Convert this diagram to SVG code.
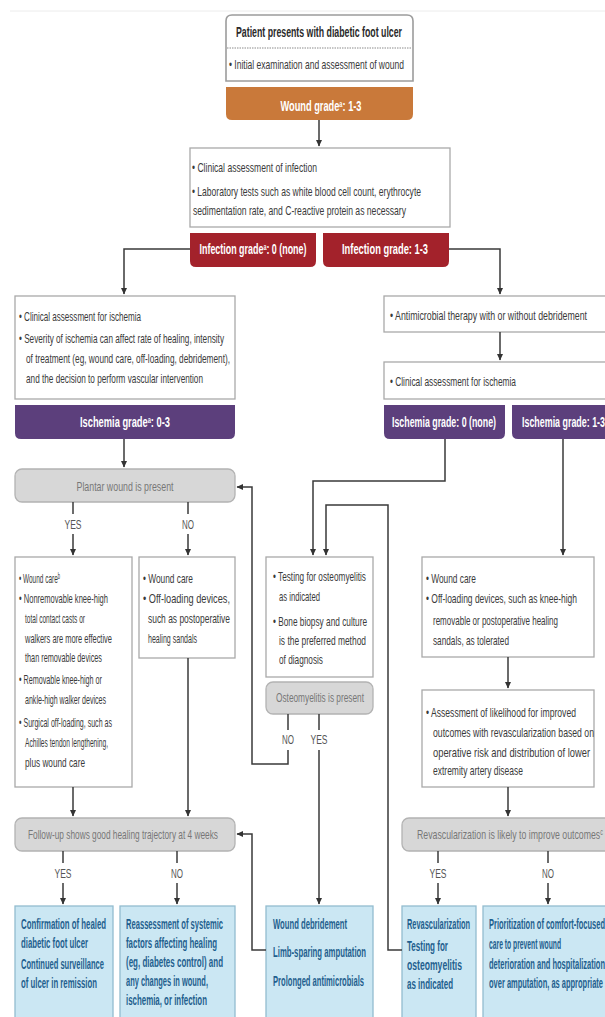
<svg xmlns="http://www.w3.org/2000/svg" width="605" height="1017" viewBox="0 0 605 1017">
<defs>
<marker id="ah" markerWidth="7" markerHeight="7" refX="6" refY="3.5" orient="auto" markerUnits="userSpaceOnUse"><path d="M0,0.5 L6.5,3.5 L0,6.5 z" fill="#333"/></marker>
</defs>
<style>
text{font-family:"Liberation Sans Narrow","Liberation Sans",Arial,sans-serif}
.t{font-size:13.5px;fill:#3a3a3a}
.h{font-size:14px;fill:#2a2a2a;font-weight:bold}
.w{font-size:14px;fill:#fff;font-weight:bold}
.g{font-size:13.5px;fill:#777}
.yn{font-size:12.5px;fill:#555}
.bl{font-size:14px;fill:#1f5f8e;font-weight:bold}
.box{fill:#fff;stroke:#a9a9a9;stroke-width:1.3}
.gray{fill:#d7d7d7;stroke:#b3b3b3;stroke-width:1.3}
.blue{fill:#cbe7f3;stroke:#93bccf;stroke-width:1.3}
.con{fill:none;stroke:#3a3a3a;stroke-width:1.5}
.sup{font-size:8.5px}
</style>
<rect width="605" height="1017" fill="#fff"/>
<line x1="10" y1="11" x2="605" y2="11" stroke="#ececec" stroke-width="1"/>

<g id="start">
<path d="M226,81 V21 Q226,15 232,15 H407 Q413,15 413,21 V81 Z" class="box" style="stroke:#9c9c9c;stroke-width:1.6"/>
<line x1="227" y1="48" x2="412" y2="48" stroke="#8a8a8a" stroke-width="1" stroke-dasharray="1.5,1"/>
<text class="h" x="319" y="37" text-anchor="middle" textLength="166" lengthAdjust="spacingAndGlyphs">Patient presents with diabetic foot ulcer</text>
<text class="t" x="229" y="69" textLength="175" lengthAdjust="spacingAndGlyphs">• Initial examination and assessment of wound</text>
</g>

<g id="wound-grade">
<path d="M226,87 H413 V114 Q413,120 407,120 H232 Q226,120 226,114 Z" fill="#c9793a"/>
<text class="w" x="321" y="111" text-anchor="middle" textLength="81" lengthAdjust="spacingAndGlyphs">Wound grade<tspan class="sup" dy="-4">a</tspan><tspan dy="4">: 1-3</tspan></text>
</g>

<g id="infection-assessment">
<rect x="190" y="148" width="260" height="79" class="box"/>
<text class="t" x="192" y="172" textLength="125" lengthAdjust="spacingAndGlyphs">• Clinical assessment of infection</text>
<text class="t" x="192" y="196" textLength="229" lengthAdjust="spacingAndGlyphs">• Laboratory tests such as white blood cell count, erythrocyte</text>
<text class="t" x="193" y="215" textLength="213" lengthAdjust="spacingAndGlyphs">sedimentation rate, and C-reactive protein as necessary</text>
</g>

<g id="infection-0">
<path d="M190,233 H316 V261 Q316,267 310,267 H196 Q190,267 190,261 Z" fill="#a3222b"/>
<text class="w" x="253" y="254" text-anchor="middle" textLength="107" lengthAdjust="spacingAndGlyphs">Infection grade<tspan class="sup" dy="-4">a</tspan><tspan dy="4">: 0 (none)</tspan></text>
</g>
<g id="infection-13">
<path d="M323,233 H449 V261 Q449,267 443,267 H329 Q323,267 323,261 Z" fill="#a3222b"/>
<text class="w" x="385" y="254" text-anchor="middle" textLength="86" lengthAdjust="spacingAndGlyphs">Infection grade: 1-3</text>
</g>

<g id="ischemia-assessment-left">
<rect x="15" y="296" width="220" height="103" class="box"/>
<text class="t" x="19" y="321" textLength="122" lengthAdjust="spacingAndGlyphs">• Clinical assessment for ischemia</text>
<text class="t" x="19" y="343" textLength="205" lengthAdjust="spacingAndGlyphs">• Severity of ischemia can affect rate of healing, intensity</text>
<text class="t" x="26" y="363" textLength="204" lengthAdjust="spacingAndGlyphs">of treatment (eg, wound care, off-loading, debridement),</text>
<text class="t" x="26" y="383" textLength="177" lengthAdjust="spacingAndGlyphs">and the decision to perform vascular intervention</text>
</g>
<g id="ischemia-grade-03">
<path d="M15,405 H235 V433 Q235,439 229,439 H21 Q15,439 15,433 Z" fill="#5c3f7c"/>
<text class="w" x="125" y="427" text-anchor="middle" textLength="90" lengthAdjust="spacingAndGlyphs">Ischemia grade<tspan class="sup" dy="-4">a</tspan><tspan dy="4">: 0-3</tspan></text>
</g>

<g id="antimicrobial">
<rect x="384" y="296" width="230" height="36" class="box"/>
<text class="t" x="390" y="320" textLength="197" lengthAdjust="spacingAndGlyphs">• Antimicrobial therapy with or without debridement</text>
</g>
<g id="ischemia-assessment-right">
<rect x="384" y="362" width="230" height="37" class="box"/>
<text class="t" x="390" y="386" textLength="126" lengthAdjust="spacingAndGlyphs">• Clinical assessment for ischemia</text>
</g>
<g id="ischemia-0">
<path d="M384,405 H505 V433 Q505,439 499,439 H390 Q384,439 384,433 Z" fill="#5c3f7c"/>
<text class="w" x="444" y="427" text-anchor="middle" textLength="104" lengthAdjust="spacingAndGlyphs">Ischemia grade: 0 (none)</text>
</g>
<g id="ischemia-13">
<path d="M512,405 H620 V439 H518 Q512,439 512,433 Z" fill="#5c3f7c"/>
<text class="w" x="522" y="427" textLength="83" lengthAdjust="spacingAndGlyphs">Ischemia grade: 1-3</text>
</g>

<g id="plantar">
<rect x="15" y="469" width="220" height="33" rx="7" class="gray"/>
<text class="g" x="125" y="491" text-anchor="middle" textLength="97" lengthAdjust="spacingAndGlyphs">Plantar wound is present</text>
</g>

<g id="wound-care-yes">
<rect x="15" y="557" width="117" height="230" class="box"/>
<text class="t" x="19" y="583" textLength="41" lengthAdjust="spacingAndGlyphs">• Wound care<tspan class="sup" dy="-4">b</tspan></text>
<text class="t" x="19" y="603" textLength="89" lengthAdjust="spacingAndGlyphs">• Nonremovable knee-high</text>
<text class="t" x="25" y="623" textLength="60" lengthAdjust="spacingAndGlyphs">total contact casts or</text>
<text class="t" x="25" y="643" textLength="87" lengthAdjust="spacingAndGlyphs">walkers are more effective</text>
<text class="t" x="25" y="662" textLength="77" lengthAdjust="spacingAndGlyphs">than removable devices</text>
<text class="t" x="19" y="684" textLength="83" lengthAdjust="spacingAndGlyphs">• Removable knee-high or</text>
<text class="t" x="25" y="704" textLength="81" lengthAdjust="spacingAndGlyphs">ankle-high walker devices</text>
<text class="t" x="19" y="727" textLength="93" lengthAdjust="spacingAndGlyphs">• Surgical off-loading, such as</text>
<text class="t" x="25" y="747" textLength="83" lengthAdjust="spacingAndGlyphs">Achilles tendon lengthening,</text>
<text class="t" x="25" y="767" textLength="60" lengthAdjust="spacingAndGlyphs">plus wound care</text>
</g>

<g id="wound-care-no">
<rect x="139" y="557" width="96" height="101" class="box"/>
<text class="t" x="143" y="583" textLength="50" lengthAdjust="spacingAndGlyphs">• Wound care</text>
<text class="t" x="143" y="603" textLength="87" lengthAdjust="spacingAndGlyphs">• Off-loading devices,</text>
<text class="t" x="148" y="623" textLength="82" lengthAdjust="spacingAndGlyphs">such as postoperative</text>
<text class="t" x="148" y="643" textLength="49" lengthAdjust="spacingAndGlyphs">healing sandals</text>
</g>

<g id="osteo-testing">
<rect x="266" y="557" width="107" height="120" class="box"/>
<text class="t" x="273" y="581" textLength="93" lengthAdjust="spacingAndGlyphs">• Testing for osteomyelitis</text>
<text class="t" x="279" y="601" textLength="41" lengthAdjust="spacingAndGlyphs">as indicated</text>
<text class="t" x="273" y="626" textLength="94" lengthAdjust="spacingAndGlyphs">• Bone biopsy and culture</text>
<text class="t" x="279" y="645" textLength="87" lengthAdjust="spacingAndGlyphs">is the preferred method</text>
<text class="t" x="279" y="664" textLength="44" lengthAdjust="spacingAndGlyphs">of diagnosis</text>
</g>
<g id="osteo-present">
<rect x="266" y="682" width="107" height="32" rx="7" class="gray"/>
<text class="g" x="320" y="702" text-anchor="middle" textLength="88" lengthAdjust="spacingAndGlyphs">Osteomyelitis is present</text>
</g>

<g id="wound-care-right">
<rect x="422" y="557" width="172" height="100" class="box"/>
<text class="t" x="426" y="583" textLength="50" lengthAdjust="spacingAndGlyphs">• Wound care</text>
<text class="t" x="426" y="603" textLength="151" lengthAdjust="spacingAndGlyphs">• Off-loading devices, such as knee-high</text>
<text class="t" x="433" y="625" textLength="125" lengthAdjust="spacingAndGlyphs">removable or postoperative healing</text>
<text class="t" x="433" y="645" textLength="76" lengthAdjust="spacingAndGlyphs">sandals, as tolerated</text>
</g>

<g id="assessment">
<rect x="422" y="690" width="172" height="97" class="box"/>
<text class="t" x="426" y="717" textLength="150" lengthAdjust="spacingAndGlyphs">• Assessment of likelihood for improved</text>
<text class="t" x="433" y="737" textLength="161" lengthAdjust="spacingAndGlyphs">outcomes with revascularization based on</text>
<text class="t" x="433" y="757" textLength="157" lengthAdjust="spacingAndGlyphs">operative risk and distribution of lower</text>
<text class="t" x="433" y="775" textLength="90" lengthAdjust="spacingAndGlyphs">extremity artery disease</text>
</g>

<g id="follow-up">
<rect x="15" y="818" width="220" height="33" rx="7" class="gray"/>
<text class="g" x="123" y="839" text-anchor="middle" textLength="190" lengthAdjust="spacingAndGlyphs">Follow-up shows good healing trajectory at 4 weeks</text>
</g>

<g id="revasc-decision">
<rect x="402" y="818" width="220" height="33" rx="7" class="gray"/>
<text class="g" x="417" y="839" textLength="186" lengthAdjust="spacingAndGlyphs">Revascularization is likely to improve outcomes<tspan class="sup" dy="-4">c</tspan></text>
</g>

<g id="healed">
<rect x="15" y="906" width="98" height="120" class="blue"/>
<text class="bl" x="21" y="929" textLength="85" lengthAdjust="spacingAndGlyphs">Confirmation of healed</text>
<text class="bl" x="21" y="948" textLength="67" lengthAdjust="spacingAndGlyphs">diabetic foot ulcer</text>
<text class="bl" x="21" y="969" textLength="83" lengthAdjust="spacingAndGlyphs">Continued surveillance</text>
<text class="bl" x="21" y="988" textLength="76" lengthAdjust="spacingAndGlyphs">of ulcer in remission</text>
</g>
<g id="reassessment">
<rect x="120" y="906" width="115" height="120" class="blue"/>
<text class="bl" x="126" y="929" textLength="97" lengthAdjust="spacingAndGlyphs">Reassessment of systemic</text>
<text class="bl" x="126" y="948" textLength="91" lengthAdjust="spacingAndGlyphs">factors affecting healing</text>
<text class="bl" x="126" y="967" textLength="97" lengthAdjust="spacingAndGlyphs">(eg, diabetes control) and</text>
<text class="bl" x="126" y="986" textLength="82" lengthAdjust="spacingAndGlyphs">any changes in wound,</text>
<text class="bl" x="126" y="1005" textLength="81" lengthAdjust="spacingAndGlyphs">ischemia, or infection</text>
</g>
<g id="debridement">
<rect x="266" y="906" width="107" height="120" class="blue"/>
<text class="bl" x="273" y="929" textLength="74" lengthAdjust="spacingAndGlyphs">Wound debridement</text>
<text class="bl" x="273" y="957" textLength="93" lengthAdjust="spacingAndGlyphs">Limb-sparing amputation</text>
<text class="bl" x="273" y="986" textLength="91" lengthAdjust="spacingAndGlyphs">Prolonged antimicrobials</text>
</g>
<g id="revascularization">
<rect x="402" y="906" width="74" height="120" class="blue"/>
<text class="bl" x="407" y="929" textLength="63" lengthAdjust="spacingAndGlyphs">Revascularization</text>
<text class="bl" x="407" y="951" textLength="41" lengthAdjust="spacingAndGlyphs">Testing for</text>
<text class="bl" x="407" y="970" textLength="55" lengthAdjust="spacingAndGlyphs">osteomyelitis</text>
<text class="bl" x="407" y="989" textLength="46" lengthAdjust="spacingAndGlyphs">as indicated</text>
</g>
<g id="comfort">
<rect x="483" y="906" width="140" height="120" class="blue"/>
<text class="bl" x="489" y="929" textLength="116" lengthAdjust="spacingAndGlyphs">Prioritization of comfort-focused</text>
<text class="bl" x="489" y="949" textLength="72" lengthAdjust="spacingAndGlyphs">care to prevent wound</text>
<text class="bl" x="489" y="969" textLength="116" lengthAdjust="spacingAndGlyphs">deterioration and hospitalization</text>
<text class="bl" x="489" y="988" textLength="114" lengthAdjust="spacingAndGlyphs">over amputation, as appropriate</text>
</g>

<g id="connectors">
<path class="con" d="M319,120 V146" marker-end="url(#ah)"/>
<path class="con" d="M190,249 H124 V294" marker-end="url(#ah)"/>
<path class="con" d="M449,249 H500 V294" marker-end="url(#ah)"/>
<path class="con" d="M500,332 V360" marker-end="url(#ah)"/>
<path class="con" d="M124,439 V467" marker-end="url(#ah)"/>
<path class="con" d="M73,502 V514"/>
<path class="con" d="M73,534 V555" marker-end="url(#ah)"/>
<path class="con" d="M188,502 V514"/>
<path class="con" d="M188,534 V555" marker-end="url(#ah)"/>
<path class="con" d="M73,787 V816" marker-end="url(#ah)"/>
<path class="con" d="M188,658 V816" marker-end="url(#ah)"/>
<path class="con" d="M63,851 V863"/>
<path class="con" d="M63,883 V904" marker-end="url(#ah)"/>
<path class="con" d="M177,851 V863"/>
<path class="con" d="M177,883 V904" marker-end="url(#ah)"/>
<path class="con" d="M445,439 V481 H313 V555" marker-end="url(#ah)"/>
<path class="con" d="M563,439 V555" marker-end="url(#ah)"/>
<path class="con" d="M508,657 V688" marker-end="url(#ah)"/>
<path class="con" d="M508,787 V816" marker-end="url(#ah)"/>
<path class="con" d="M438,851 V863"/>
<path class="con" d="M438,883 V904" marker-end="url(#ah)"/>
<path class="con" d="M548,851 V863"/>
<path class="con" d="M548,883 V904" marker-end="url(#ah)"/>
<path class="con" d="M288,714 V730"/>
<path class="con" d="M288,750 V764 H252 V487 H237" marker-end="url(#ah)"/>
<path class="con" d="M319,714 V730"/>
<path class="con" d="M319,750 V904" marker-end="url(#ah)"/>
<path class="con" d="M266,950 H252 V834 H237" marker-end="url(#ah)"/>
<path class="con" d="M402,950 H388 V505 H326 V555" marker-end="url(#ah)"/>
<text class="yn" x="73" y="529" text-anchor="middle" textLength="17" lengthAdjust="spacingAndGlyphs">YES</text>
<text class="yn" x="188" y="529" text-anchor="middle" textLength="12" lengthAdjust="spacingAndGlyphs">NO</text>
<text class="yn" x="63" y="878" text-anchor="middle" textLength="17" lengthAdjust="spacingAndGlyphs">YES</text>
<text class="yn" x="177" y="878" text-anchor="middle" textLength="12" lengthAdjust="spacingAndGlyphs">NO</text>
<text class="yn" x="438" y="878" text-anchor="middle" textLength="17" lengthAdjust="spacingAndGlyphs">YES</text>
<text class="yn" x="548" y="878" text-anchor="middle" textLength="12" lengthAdjust="spacingAndGlyphs">NO</text>
<text class="yn" x="288" y="744" text-anchor="middle" textLength="12" lengthAdjust="spacingAndGlyphs">NO</text>
<text class="yn" x="319" y="744" text-anchor="middle" textLength="17" lengthAdjust="spacingAndGlyphs">YES</text>
</g>
</svg>
